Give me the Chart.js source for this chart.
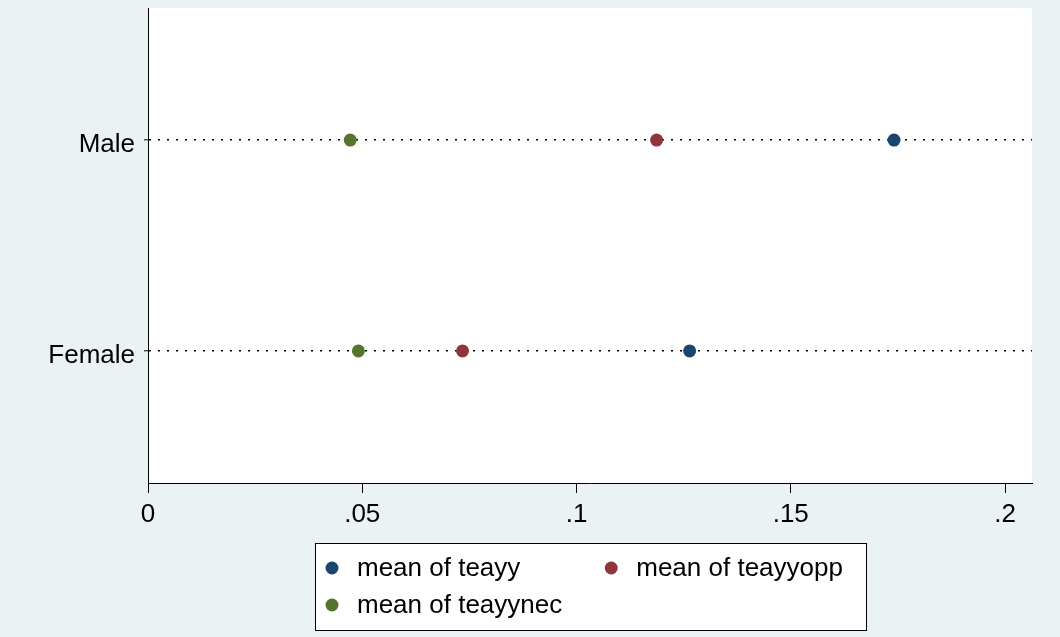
<!DOCTYPE html>
<html>
<head>
<meta charset="utf-8">
<script src="https://cdn.jsdelivr.net/npm/chart.js@4/dist/chart.umd.min.js"></script>
<style>
  html, body { margin: 0; padding: 0; background: #eaf2f3; }
  canvas { display: block; }
</style>
</head>
<body>
<canvas id="grafico" width="1060" height="637"></canvas>
<script>
// categories (top to bottom)
const categorias = ["Male", "Female"];

// series values per category
const teayy = [0.1741, 0.1264];
const teayyopp = [0.1187, 0.0734];
const teayynec = [0.0472, 0.0491];

const rotulosSeries = ["mean of teayy", "mean of teayyopp", "mean of teayynec"];
const cores = ["#1a476f", "#90353b", "#55752f"];

// x axis ticks
const xTicks = [0, 0.05, 0.1, 0.15, 0.2];
const xTickLabels = ["0", ".05", ".1", ".15", ".2"];

const fonte = "'Liberation Sans', Arial, Helvetica, sans-serif";

const pontos = (valores) => valores.map((v, i) => ({ x: v, y: i + 1 }));

// fundo cinza-azulado e area do grafico branca
const fundoPlugin = {
  id: "fundo",
  beforeDraw(chart) {
    const { ctx, chartArea } = chart;
    ctx.save();
    ctx.fillStyle = "#eaf2f3";
    ctx.fillRect(0, 0, chart.width, chart.height);
    ctx.fillStyle = "#ffffff";
    ctx.fillRect(chartArea.left, chartArea.top, chartArea.right - chartArea.left, chartArea.bottom - chartArea.top);
    ctx.restore();
  }
};

// legenda em caixa, 2 colunas, estilo Stata
const legendaPlugin = {
  id: "legendaStata",
  afterDraw(chart) {
    const { ctx, chartArea } = chart;
    const ds = chart.data.datasets;
    ctx.save();
    ctx.font = "26px " + fonte;
    const w1 = Math.max(ctx.measureText(ds[0].label).width, ctx.measureText(ds[2].label).width);
    const w2 = ctx.measureText(ds[1].label).width;
    const larg = 17 + 25 + w1 + 49 + 25 + w2 + 23;
    const alt = 87;
    const esq = Math.round((chartArea.left + chartArea.right) / 2 - larg / 2);
    const topo = Math.round(chartArea.bottom + 60);

    ctx.fillStyle = "#ffffff";
    ctx.fillRect(esq, topo, larg, alt);
    ctx.strokeStyle = "#000000";
    ctx.lineWidth = 1;
    ctx.strokeRect(esq + 0.5, topo + 0.5, Math.round(larg), alt);

    const colX = [esq + 17, esq + 17 + 25 + w1 + 49];
    const linY = [topo + 25, topo + 62];
    ds.forEach((d, i) => {
      const cx = colX[i % 2];
      const cy = linY[Math.floor(i / 2)];
      ctx.beginPath();
      ctx.arc(cx, cy, 6.5, 0, Math.PI * 2);
      ctx.fillStyle = d.backgroundColor;
      ctx.fill();
      ctx.fillStyle = "#000000";
      ctx.textAlign = "left";
      ctx.textBaseline = "middle";
      ctx.fillText(d.label, cx + 25, cy + 1);
    });
    ctx.restore();
  }
};

const grafico = new Chart(document.getElementById("grafico").getContext("2d"), {
  type: "scatter",
  data: {
    datasets: [
      { label: rotulosSeries[0], data: pontos(teayy), backgroundColor: cores[0] },
      { label: rotulosSeries[1], data: pontos(teayyopp), backgroundColor: cores[1] },
      { label: rotulosSeries[2], data: pontos(teayynec), backgroundColor: cores[2] }
    ]
  },
  options: {
    responsive: false,
    animation: false,
    layout: { padding: { top: 8, right: 28, left: 0, bottom: 0 } },
    elements: {
      point: { radius: 6.5, borderWidth: 0, hoverRadius: 6.5 }
    },
    plugins: {
      legend: { display: false },
      tooltip: { enabled: false },
      title: { display: false }
    },
    scales: {
      x: {
        type: "linear",
        min: 0,
        max: 0.2063,
        afterBuildTicks: (scale) => { scale.ticks = xTicks.map(v => ({ value: v })); },
        afterFit: (scale) => { scale.height = 154; },
        ticks: {
          padding: 6,
          color: "#000000",
          font: { family: fonte, size: 26 },
          maxRotation: 0,
          callback: (v) => {
            const i = xTicks.findIndex(t => Math.abs(t - v) < 1e-9);
            return i >= 0 ? xTickLabels[i] : "";
          }
        },
        grid: {
          drawOnChartArea: false,
          drawTicks: true,
          tickLength: 10,
          tickColor: "#000000",
          tickWidth: 1
        },
        border: { display: true, color: "#000000", width: 1 }
      },
      y: {
        type: "linear",
        reverse: true,
        min: 0.374,
        max: 2.626,
        afterBuildTicks: (scale) => { scale.ticks = categorias.map((c, i) => ({ value: i + 1 })); },
        afterFit: (scale) => {
          scale.width = 148;
          scale.paddingTop = 0;
          scale.paddingBottom = 0;
        },
        ticks: {
          padding: 9,
          labelOffset: 5,
          color: "#000000",
          font: { family: fonte, size: 26 },
          callback: (v) => categorias[Math.round(v) - 1] || ""
        },
        grid: {
          drawOnChartArea: true,
          color: "#000000",
          lineWidth: 1.6,
          drawTicks: true,
          tickLength: 4,
          tickColor: "#000000",
          tickWidth: 1,
          tickBorderDash: []
        },
        border: { display: true, color: "#000000", width: 1, dash: [2, 7] }
      }
    }
  },
  plugins: [fundoPlugin, legendaPlugin]
});
</script>
</body>
</html>
